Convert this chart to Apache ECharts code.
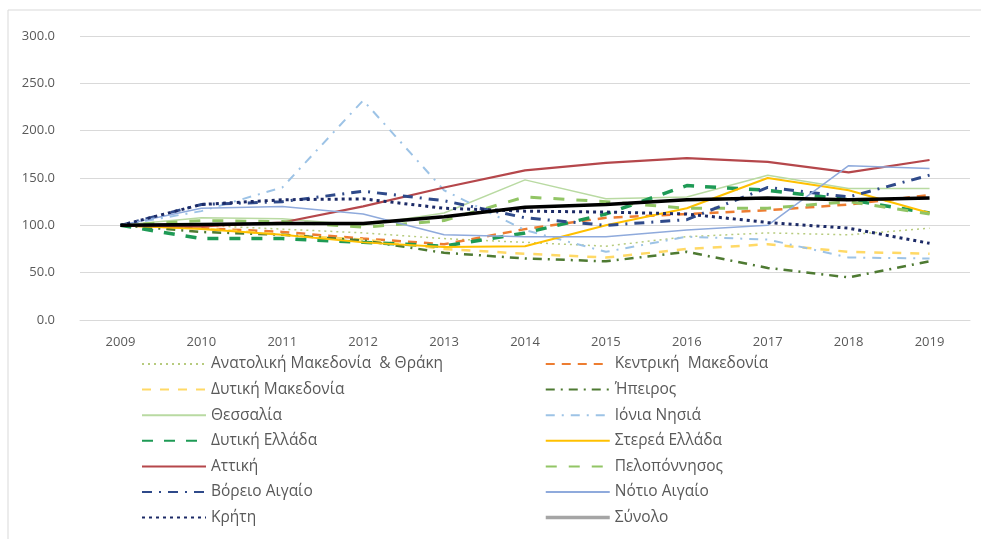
<!DOCTYPE html>
<html>
<head>
<meta charset="utf-8">
<script src="https://cdn.jsdelivr.net/npm/echarts@6/dist/echarts.min.js"></script>
<style>
html, body { margin: 0; padding: 0; background: #fff; }
#chart { width: 981px; height: 539px; }
</style>
</head>
<body>
<div id="chart"></div>
<script>
// years on the x axis
const years = ['2009', '2010', '2011', '2012', '2013', '2014', '2015', '2016', '2017', '2018', '2019'];
const yTicks = [0, 50, 100, 150, 200, 250, 300];

// index values (2009 = 100)
const anatMakThr = [100, 100, 96, 92, 86, 82, 78, 88, 92, 90, 97];
const kentrMak = [100, 97, 93, 86, 80, 96, 108, 112, 116, 122, 132];
const dytMak = [100, 97, 90, 85, 75, 70, 66, 75, 80, 72, 70];
const ipeiros = [100, 93, 90, 84, 71, 65, 62, 72, 55, 45, 62];
const thessalia = [100, 108, 107, 100, 113, 148, 128, 130, 153, 139, 139];
const ionia = [100, 115, 140, 232, 137, 95, 72, 88, 85, 66, 65];
const dytEllada = [100, 86, 86, 82, 78, 92, 112, 142, 137, 127, 113];
const stereaEll = [100, 96, 90, 82, 77, 78, 100, 118, 150, 137, 113];
const attiki = [100, 99, 103, 120, 140, 158, 166, 171, 167, 156, 169];
const peloponnisos = [100, 105, 104, 98, 105, 130, 125, 118, 118, 125, 112];
const voreioAig = [100, 122, 125, 136, 126, 108, 100, 106, 140, 130, 153];
const notioAig = [100, 118, 120, 112, 90, 88, 88, 95, 100, 163, 160];
const kriti = [100, 122, 127, 128, 118, 115, 114, 112, 103, 97, 81];
const synolo = [100, 101, 102, 102, 109, 119, 122, 127, 129, 127, 129];

const leftNames = ['Ανατολική Μακεδονία  & Θράκη', 'Δυτική Μακεδονία', 'Θεσσαλία', 'Δυτική Ελλάδα', 'Αττική', 'Βόρειο Αιγαίο', 'Κρήτη'];
const rightNames = ['Κεντρική  Μακεδονία', 'Ήπειρος', 'Ιόνια Νησιά', 'Στερεά Ελλάδα', 'Πελοπόννησος', 'Νότιο Αιγαίο', 'Σύνολο'];

const chart = echarts.init(document.getElementById('chart'));

function mk(name, data, color, width, type) {
    return {
        name: name,
        type: 'line',
        data: data,
        symbol: 'none',
        smooth: false,
        lineStyle: { color: color, width: width, type: type },
        itemStyle: { color: color }
    };
}

const series = [
    mk('Ανατολική Μακεδονία  & Θράκη', anatMakThr, '#B7CB7E', 1.5, [2, 4]),
    mk('Κεντρική  Μακεδονία', kentrMak, '#ED7D31', 2.5, [9, 7]),
    mk('Δυτική Μακεδονία', dytMak, '#FFD966', 2.5, [9, 9]),
    mk('Ήπειρος', ipeiros, '#4E7A32', 2.5, [9, 6, 2, 6]),
    mk('Θεσσαλία', thessalia, '#B9DAA2', 1.5, 'solid'),
    mk('Ιόνια Νησιά', ionia, '#9DC3E6', 2, [9, 7, 2, 7]),
    mk('Δυτική Ελλάδα', dytEllada, '#1E9A55', 3.5, [11, 11]),
    mk('Στερεά Ελλάδα', stereaEll, '#FFC000', 2, 'solid'),
    mk('Αττική', attiki, '#B5474B', 2.2, 'solid'),
    mk('Πελοπόννησος', peloponnisos, '#92C565', 3, [11, 12]),
    mk('Βόρειο Αιγαίο', voreioAig, '#2F4A8A', 3, [10, 7, 2, 7]),
    mk('Νότιο Αιγαίο', notioAig, '#8FAADC', 1.5, 'solid'),
    mk('Κρήτη', kriti, '#1C2A66', 3, [3, 4]),
    mk('Σύνολο', synolo, '#000000', 3.5, 'solid')
];

function legendData(names) {
    return names.map(function (n) {
        if (n === 'Σύνολο') {
            return { name: n, lineStyle: { color: '#A5A5A5', width: 3.5 } };
        }
        return { name: n };
    });
}

const legendBase = {
    orient: 'vertical',
    top: 356,
    height: 182,
    padding: 0,
    itemWidth: 64,
    itemHeight: 14,
    itemGap: 9.6,
    selectedMode: false,
    itemStyle: { opacity: 0 },
    textStyle: { color: '#595959', fontSize: 15.5, lineHeight: 16, fontFamily: 'Open Sans' }
};

const option = {
    animation: false,
    backgroundColor: '#fff',
    graphic: [{
        type: 'rect',
        shape: { x: 8, y: 10, width: 990, height: 560 },
        style: { fill: 'none', stroke: '#D9D9D9', lineWidth: 1 },
        silent: true
    }],
    grid: { left: 80, right: 11, top: 36, bottom: 219, containLabel: false },
    legend: [
        Object.assign({}, legendBase, { left: 141, data: legendData(leftNames) }),
        Object.assign({}, legendBase, { left: 544, data: legendData(rightNames) })
    ],
    xAxis: {
        type: 'category',
        data: years,
        boundaryGap: true,
        axisLine: { show: true, lineStyle: { color: '#D9D9D9', width: 1 } },
        axisTick: { show: false },
        axisLabel: { color: '#595959', fontSize: 13, margin: 16, fontFamily: 'Open Sans' }
    },
    yAxis: {
        type: 'value',
        min: yTicks[0],
        max: yTicks[yTicks.length - 1],
        interval: 50,
        axisLine: { show: false },
        axisTick: { show: false },
        splitLine: { lineStyle: { color: '#D9D9D9', width: 1 } },
        axisLabel: {
            color: '#595959', fontSize: 13, margin: 25, fontFamily: 'Open Sans',
            formatter: function (v) { return v.toFixed(1); }
        }
    },
    series: series
};

chart.setOption(option);
</script>
</body>
</html>
